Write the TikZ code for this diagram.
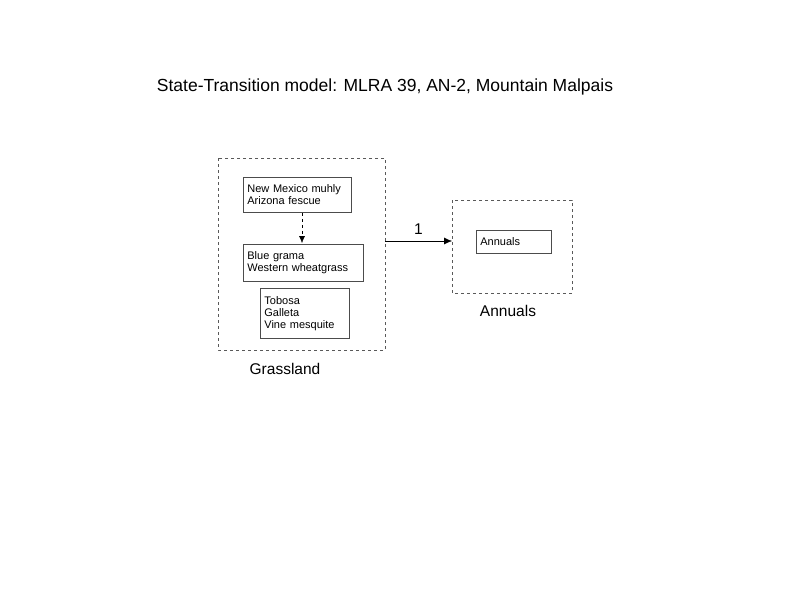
\documentclass[tikz,border=0pt]{standalone}
\usepackage{fontspec}
\usetikzlibrary{arrows.meta}
\setmainfont{Liberation Sans}
\begin{document}
\begin{tikzpicture}[x=1pt,y=-1pt,>=latex]
\tikzset{state/.style={draw,dashed,gray!70!black,minimum width=#1},
  plant/.style={draw,thick,gray!60!black,text=black,align=left,inner sep=0pt,font=\fontsize{11}{12}\selectfont,anchor=north west},
  lbl/.style={font=\fontsize{15.5}{17}\selectfont}}
\useasboundingbox (0,0) rectangle (800,600);
\node[lbl,font=\fontsize{17.5}{19}\selectfont] (title) at (385,87) {State-Transition model: MLRA 39, AN-2, Mountain Malpais};
\draw[state=1] (218,158) rectangle (385,350);
\draw[state=1] (452,200) rectangle (572,293);
\coordinate (gr) at (385,241);
\coordinate (an) at (452,241);
\node[plant,minimum width=108pt,minimum height=35pt,text width=100pt] (nmm) at (243,177) {New Mexico muhly\\Arizona fescue};
\node[plant,minimum width=120pt,minimum height=37pt,text width=112pt] (bg) at (243,244) {Blue grama\\Western wheatgrass};
\node[plant,minimum width=89pt,minimum height=50pt,text width=81pt] (tob) at (260,288) {Tobosa\\Galleta\\Vine mesquite};
\node[plant,minimum width=75pt,minimum height=23pt,text width=67pt] (ann) at (476,230) {Annuals};
\draw[-{Latex[length=7pt,width=6pt]},dashed] (nmm.south -| 302,0) -- (302,243);
\draw[-{Latex[length=8pt,width=7pt]}] (gr) -- node[above=3pt,lbl] {1} (an);
\node[lbl] (glab) at (285,369) {Grassland};
\node[lbl] (alab) at (508,311) {Annuals};
\end{tikzpicture}
\end{document}
